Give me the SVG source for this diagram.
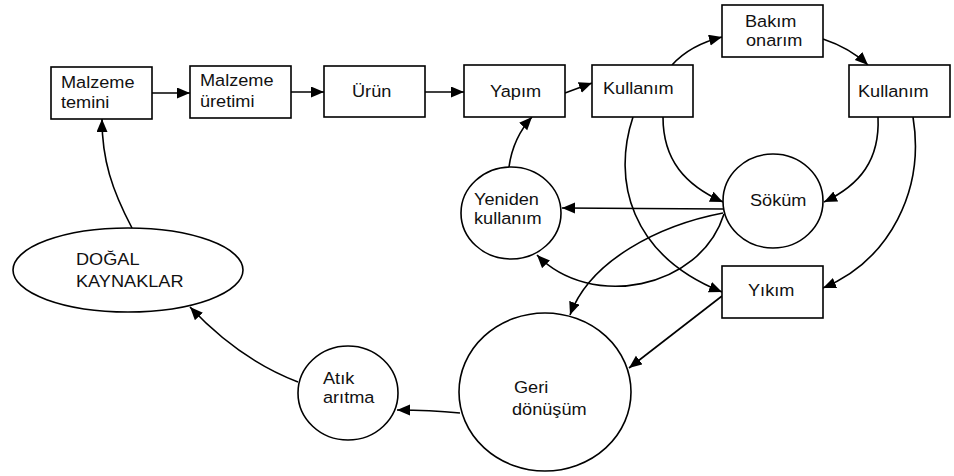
<svg xmlns="http://www.w3.org/2000/svg" width="954" height="476" viewBox="0 0 954 476">
<style>
.n{fill:#fff;stroke:#000;stroke-width:1.6}
.t{font-family:"Liberation Sans",Arial,sans-serif;font-size:16.5px;fill:#111}
.c{fill:none;stroke:#000;stroke-width:1.6;marker-end:url(#ah)}
</style>
<defs>
<marker id="ah" markerUnits="userSpaceOnUse" markerWidth="14" markerHeight="12" refX="13" refY="5.5" orient="auto">
<path d="M0,0 L13,5.5 L0,11 z" fill="#000"/>
</marker>
</defs>
<rect width="954" height="476" fill="#fff"/>
<g id="connectors">
<path class="c" d="M152,93 L190,93"/>
<path class="c" d="M291,92 L324,92"/>
<path class="c" d="M425,92 L464,92"/>
<path class="c" d="M565,93 L592,83"/>
<path class="c" d="M672,65 Q690,45 722,37"/>
<path class="c" d="M823,39 Q850,48 868,65"/>
<path class="c" d="M663,117 C663,160 685,185 723,202"/>
<path class="c" d="M633,117 C612,180 630,255 722,292"/>
<path class="c" d="M878,117 C880,160 860,185 824,202"/>
<path class="c" d="M913,117 C925,190 890,260 823,288"/>
<path class="c" d="M723,209 L562,208"/>
<path class="c" d="M724,214 C700,290 590,310 537,255"/>
<path class="c" d="M723,213 C660,225 590,260 570,315"/>
<path class="c" d="M722,296 L629,368"/>
<path class="c" d="M460,413 Q430,410 397,410"/>
<path class="c" d="M298,382 Q240,360 190,307"/>
<path class="c" d="M132,228 C112,190 102,160 102,119"/>
<path class="c" d="M509,167 C512,145 520,130 532,117"/>
</g>
<g id="malzeme-temini"><rect class="n" x="51" y="67" width="101" height="52"/><text class="t" transform="translate(61,88) scale(1.1,1)">Malzeme</text><text class="t" transform="translate(61,108) scale(1.1,1)">temini</text></g>
<g id="malzeme-uretimi"><rect class="n" x="190" y="66" width="101" height="52"/><text class="t" transform="translate(200,86) scale(1.1,1)">Malzeme</text><text class="t" transform="translate(200,107) scale(1.1,1)">üretimi</text></g>
<g id="urun"><rect class="n" x="324" y="66" width="101" height="51"/><text class="t" transform="translate(352,97) scale(1.1,1)">Ürün</text></g>
<g id="yapim"><rect class="n" x="464" y="65" width="101" height="52"/><text class="t" transform="translate(490,97) scale(1.1,1)">Yapım</text></g>
<g id="kullanim1"><rect class="n" x="592" y="65" width="101" height="52"/><text class="t" transform="translate(603,94) scale(1.1,1)">Kullanım</text></g>
<g id="bakim-onarim"><rect class="n" x="722" y="5" width="101" height="52"/><text class="t" transform="translate(745,27) scale(1.1,1)">Bakım</text><text class="t" transform="translate(746,46) scale(1.1,1)">onarım</text></g>
<g id="kullanim2"><rect class="n" x="849" y="65" width="101" height="52"/><text class="t" transform="translate(858,97) scale(1.1,1)">Kullanım</text></g>
<g id="sokum"><ellipse class="n" cx="773" cy="201" rx="50" ry="47"/><text class="t" transform="translate(750,206) scale(1.1,1)">Söküm</text></g>
<g id="yeniden-kullanim"><ellipse class="n" cx="511" cy="213" rx="50" ry="46"/><text class="t" transform="translate(474,205) scale(1.1,1)">Yeniden</text><text class="t" transform="translate(474,224) scale(1.1,1)">kullanım</text></g>
<g id="yikim"><rect class="n" x="722" y="266" width="101" height="52"/><text class="t" transform="translate(748,296) scale(1.1,1)">Yıkım</text></g>
<g id="geri-donusum"><ellipse class="n" cx="545" cy="392" rx="86" ry="79"/><text class="t" transform="translate(514,393) scale(1.1,1)">Geri</text><text class="t" transform="translate(512,415) scale(1.1,1)">dönüşüm</text></g>
<g id="atik-aritma"><ellipse class="n" cx="348" cy="393" rx="50" ry="47"/><text class="t" transform="translate(323,384) scale(1.1,1)">Atık</text><text class="t" transform="translate(323,403) scale(1.1,1)">arıtma</text></g>
<g id="dogal-kaynaklar"><ellipse class="n" cx="128" cy="270" rx="115" ry="42"/><text class="t" transform="translate(76,265) scale(1.1,1)">DOĞAL</text><text class="t" transform="translate(76,287) scale(1.1,1)">KAYNAKLAR</text></g>
</svg>
